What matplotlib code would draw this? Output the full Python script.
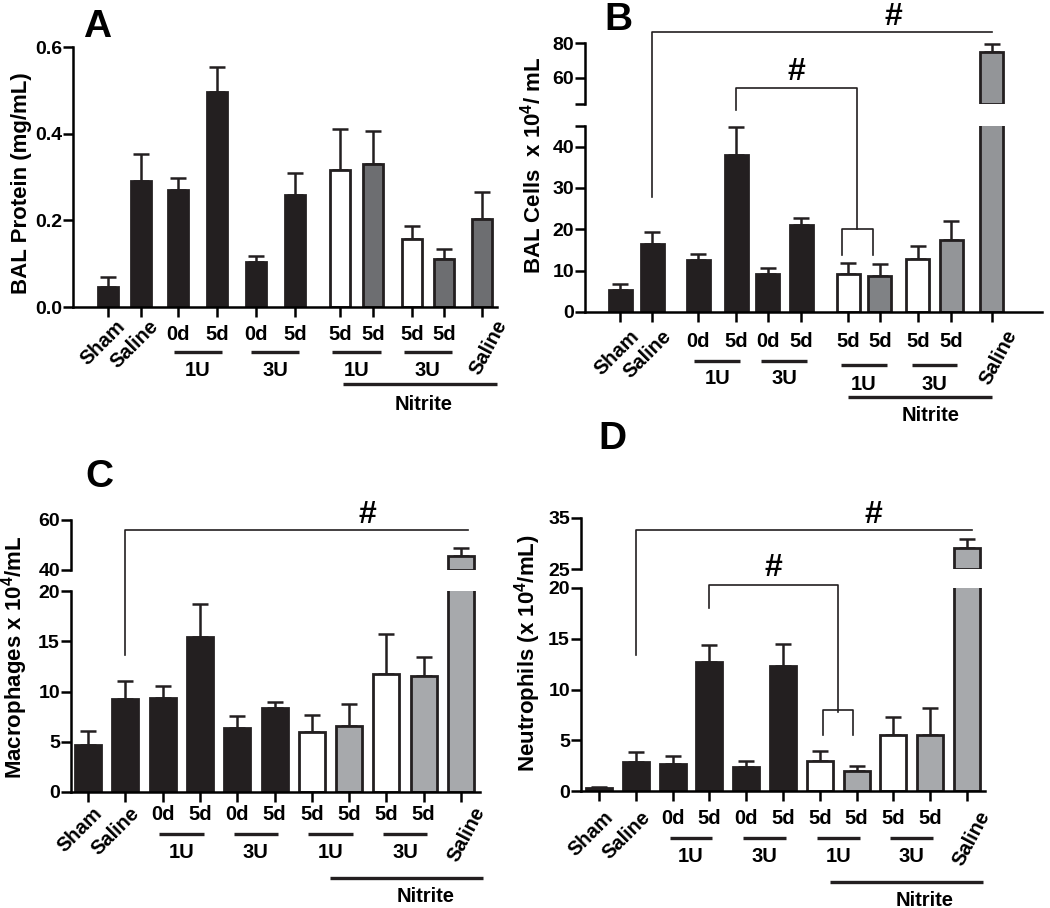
import numpy as np
import matplotlib.pyplot as plt
from matplotlib.transforms import blended_transform_factory

plt.rcParams['font.family'] = 'Liberation Sans'
plt.rcParams['font.weight'] = 'bold'
plt.rcParams['mathtext.fontset'] = 'custom'
plt.rcParams['mathtext.rm'] = 'Liberation Sans:bold'
plt.rcParams['mathtext.it'] = 'Liberation Sans:bold'
plt.rcParams['mathtext.bf'] = 'Liberation Sans:bold'

# category labels (same for every panel)
groups = ['Sham', 'Saline', '0d', '5d', '0d', '5d', '5d', '5d', '5d', '5d', 'Saline']
sub_groups = [(2, 3, '1U'), (4, 5, '3U'), (6, 7, '1U'), (8, 9, '3U')]

# A: BAL protein (mg/mL)
A_mean = [0.046, 0.291, 0.269, 0.495, 0.104, 0.259, 0.316, 0.330, 0.157, 0.110, 0.203]
A_sem = [0.023, 0.062, 0.028, 0.059, 0.013, 0.051, 0.095, 0.075, 0.031, 0.023, 0.062]

# B: BAL cells x 10^4 / mL
B_mean = [5.4, 16.5, 12.5, 38.1, 9.3, 21.1, 9.3, 8.8, 12.8, 17.3, 74.6]
B_sem = [1.4, 2.8, 1.5, 6.7, 1.4, 1.6, 2.5, 2.7, 3.1, 4.6, 4.7]

# C: macrophages x 10^4 / mL
C_mean = [4.7, 9.3, 9.4, 15.4, 6.4, 8.4, 6.0, 6.6, 11.7, 11.5, 45.7]
C_sem = [1.4, 1.7, 1.1, 3.3, 1.2, 0.6, 1.7, 2.2, 4.0, 1.9, 3.0]

# D: neutrophils x 10^4 / mL
D_mean = [0.3, 2.9, 2.7, 12.7, 2.4, 12.3, 3.0, 2.0, 5.5, 5.5, 29.2]
D_sem = [0.05, 0.9, 0.7, 1.7, 0.6, 2.2, 0.9, 0.5, 1.8, 2.7, 1.7]

K = '#231f20'
A_col = [K] * 6 + ['white', '#6d6e71', 'white', '#6d6e71', '#6d6e71']
B_col = [K] * 6 + ['white', '#808285', 'white', '#939598', '#939598']
C_col = [K] * 6 + ['white', '#a7a9ac', 'white', '#a7a9ac', '#a7a9ac']

W, H = 1050, 908
fig = plt.figure(figsize=(W / 100, H / 100), dpi=100)

FS = 14.5      # category labels
TICK_FS = 14   # y tick labels


def fy(py):
    return 1 - py / H


def add_ax(x0, x1, y0, y1):
    ax = fig.add_axes([x0 / W, 1 - y1 / H, (x1 - x0) / W, (y1 - y0) / H])
    ax.patch.set_visible(False)
    for s in ['top', 'right']:
        ax.spines[s].set_visible(False)
    ax.spines['left'].set_linewidth(1.8)
    ax.spines['bottom'].set_linewidth(1.8)
    ax.tick_params(axis='y', direction='out', length=7, width=1.8, labelsize=TICK_FS, pad=1)
    ax.tick_params(axis='x', direction='out', length=7, width=1.8, labelbottom=False)
    return ax


def bars(ax, pos, mean, sem, colors, width, bottom=0):
    mean = np.asarray(mean)
    sem = np.asarray(sem)
    ax.bar(pos, mean - bottom, width=width, bottom=bottom, color=colors,
           edgecolor=K, linewidth=2.0, zorder=2)
    ax.errorbar(pos, mean, yerr=[np.zeros(len(mean)), sem], fmt='none', ecolor=K,
                elinewidth=1.8, capsize=5.5, capthick=1.8, zorder=1)


def panel(p):
    pos = np.asarray(p['pos'], dtype=float)
    x0, x1, y0, y1 = p['rect']
    ax = add_ax(x0, x1, y0, y1)
    ax.set_xlim(p['xlim'])
    ax.set_ylim(p['ylim'])
    ax.set_yticks(p['yticks'])
    ax.set_yticklabels(p['yticklabels'])
    ax.set_xticks(pos)
    bars(ax, pos, p['mean'], p['sem'], p['colors'], p['width'])

    if 'up' in p:
        uy0, uy1, ylim_u, ticks_u, labels_u = p['up']
        axu = add_ax(x0, x1, uy0, uy1)
        axu.spines['bottom'].set_visible(False)
        axu.tick_params(axis='x', bottom=False)
        axu.set_xlim(p['xlim'])
        axu.set_ylim(ylim_u)
        axu.set_yticks(ticks_u)
        axu.set_yticklabels(labels_u)
        m = np.asarray(p['mean'])
        big = m > ylim_u[0]
        bars(axu, pos[big], m[big], np.asarray(p['sem'])[big],
             [c for c, b in zip(p['colors'], big) if b], p['width'], bottom=ylim_u[0])

    tr = blended_transform_factory(ax.transData, fig.transFigure)
    ly = p['rows']
    # rotated labels
    for i in (0, 1):
        ax.text(pos[i] + p['rot_dx'], fy(ly['rot']), groups[i], transform=tr, rotation=45,
                ha='right', va='top', rotation_mode='anchor', fontsize=FS)
    ax.text(pos[10] + p['sal_dx'], fy(ly['rot']), groups[10], transform=tr, rotation=62,
            ha='right', va='top', rotation_mode='anchor', fontsize=FS)
    for i in range(2, 10):
        ax.text(pos[i], fy(ly['row']), groups[i], transform=tr, ha='center', va='center',
                fontsize=FS)
    for k, (i, j, lab) in enumerate(sub_groups):
        line_y, txt_y = ly['grp'][0 if k < 2 else 1]
        mid = (pos[i] + pos[j]) / 2
        hl = p['half']
        ax.plot([mid - hl, mid + hl], [fy(line_y), fy(line_y)], transform=tr,
                color=K, lw=2.4, clip_on=False, solid_capstyle='butt')
        ax.text(mid, fy(txt_y), lab, transform=tr, ha='center', va='center', fontsize=FS)
    n0 = pos[6] + p['nit'][0]
    n1 = pos[10] + p['nit'][1]
    ax.plot([n0, n1], [fy(ly['nline']), fy(ly['nline'])], transform=tr, color=K, lw=2.4,
            clip_on=False, solid_capstyle='butt')
    ax.text((n0 + n1) / 2 + p['nit'][2], fy(ly['ntext']), 'Nitrite', transform=tr,
            ha='center', va='center', fontsize=FS)

    # significance brackets
    for xs, ys, hx, hy in p.get('brackets', []):
        ax.plot(xs, [fy(y) for y in ys], transform=tr, color=K, lw=1.2, clip_on=False)
        if hx is not None:
            ax.text(hx, fy(hy), '#', transform=tr, ha='center', va='center', fontsize=23)

    fig.text(p['ylab'][1] / W, fy(p['ylab'][2]), p['ylab'][0], rotation=90,
             ha='center', va='center', fontsize=16)
    fig.text(p['letter'][1] / W, fy(p['letter'][2]), p['letter'][0], ha='center',
             va='center', fontsize=28)
    return ax


# ---------- A ----------
A_pos = [0, 0.9, 1.92, 2.99, 4.05, 5.12, 6.36, 7.26, 8.33, 9.2, 10.25]
panel(dict(pos=A_pos, mean=A_mean, sem=A_sem, colors=A_col, width=0.55,
           rect=(73, 497, 47, 307), xlim=(-0.96, 10.66), ylim=(0, 0.6),
           yticks=[0, 0.2, 0.4, 0.6], yticklabels=['0.0', '0.2', '0.4', '0.6'],
           rows=dict(rot=317, row=335, grp=[(352, 371), (352, 371)], nline=384, ntext=404),
           rot_dx=0.2, sal_dx=0.32, half=0.66, nit=(0.08, 0.41, 0.1),
           ylab=('BAL Protein (mg/mL)', 22, 183), letter=('A', 97, 27)))

# ---------- B ----------
B_pos = [0, 0.88, 2.14, 3.18, 4.05, 4.96, 6.25, 7.12, 8.16, 9.07, 10.19]
bp = B_pos
bxm = (bp[6] + bp[7]) / 2 - 0.19
panel(dict(pos=B_pos, mean=B_mean, sem=B_sem, colors=B_col, width=0.63,
           rect=(585, 1042, 126, 312), xlim=(-0.96, 11.56), ylim=(0, 45),
           yticks=[0, 10, 20, 30, 40, 45], yticklabels=['0', '10', '20', '30', '40', ''],
           up=(43, 104, (45, 80), [45, 60, 80], ['', '60', '80']),
           rows=dict(rot=327, row=342, grp=[(361, 379), (365, 384)], nline=397, ntext=415),
           rot_dx=0.25, sal_dx=0.34, half=0.63, nit=(0.0, 0.0, 0.3),
           brackets=[([bp[1], bp[1], bp[10]], [197, 32, 32], 7.48, 17),
                     ([bp[3], bp[3], bxm, bxm], [110, 88, 88, 229], (bp[3] + bxm) / 2, 72),
                     ([bp[6] - 0.16, bp[6] - 0.16, bp[7] - 0.19, bp[7] - 0.19],
                      [255, 229, 229, 255], None, None)],
           ylab=('BAL Cells  x 10$^{4}$/ mL', 533, 165), letter=('B', 618, 20)))

# ---------- C ----------
C_pos = np.arange(11)
panel(dict(pos=C_pos, mean=C_mean, sem=C_sem, colors=C_col, width=0.70,
           rect=(71, 480, 591, 792), xlim=(-0.46, 10.51), ylim=(0, 20),
           yticks=[0, 5, 10, 15, 20], yticklabels=['0', '5', '10', '15', '20'],
           up=(520, 570, (40, 60), [40, 60], ['40', '60']),
           rows=dict(rot=804, row=815, grp=[(834, 853), (834, 853)], nline=878, ntext=897),
           rot_dx=0.12, sal_dx=0.3, half=0.6, nit=(0.5, 0.6, 0.5),
           brackets=[([C_pos[1], C_pos[1], C_pos[10] + 0.2], [655, 530, 530], 7.5, 515)],
           ylab=('Macrophages x 10$^{4}$/mL', 15, 657), letter=('C', 99, 477)))

# ---------- D ----------
D_pos = np.arange(11)
dxm = (D_pos[6] + D_pos[7]) / 2
panel(dict(pos=D_pos, mean=D_mean, sem=D_sem, colors=C_col, width=0.71,
           rect=(581, 985, 588, 791), xlim=(-0.49, 10.49), ylim=(0, 20),
           yticks=[0, 5, 10, 15, 20], yticklabels=['0', '5', '10', '15', '20'],
           up=(518, 569, (25, 35), [25, 35], ['25', '35']),
           rows=dict(rot=808, row=818, grp=[(838, 856), (838, 856)], nline=882, ntext=900),
           rot_dx=0.12, sal_dx=0.28, half=0.58, nit=(0.27, 0.43, 0.5),
           brackets=[([D_pos[1], D_pos[1], D_pos[10] + 0.15], [655, 530, 530], 7.45, 515),
                     ([D_pos[3], D_pos[3], dxm, dxm], [608, 585, 585, 712],
                      (D_pos[3] + dxm) / 2, 568),
                     ([D_pos[6] + 0.09, D_pos[6] + 0.09, D_pos[7] - 0.11, D_pos[7] - 0.11],
                      [735, 710, 710, 735], None, None)],
           ylab=('Neutrophils (x 10$^{4}$/mL)', 528, 653), letter=('D', 612, 439)))

fig.savefig('out.png', dpi=100)
